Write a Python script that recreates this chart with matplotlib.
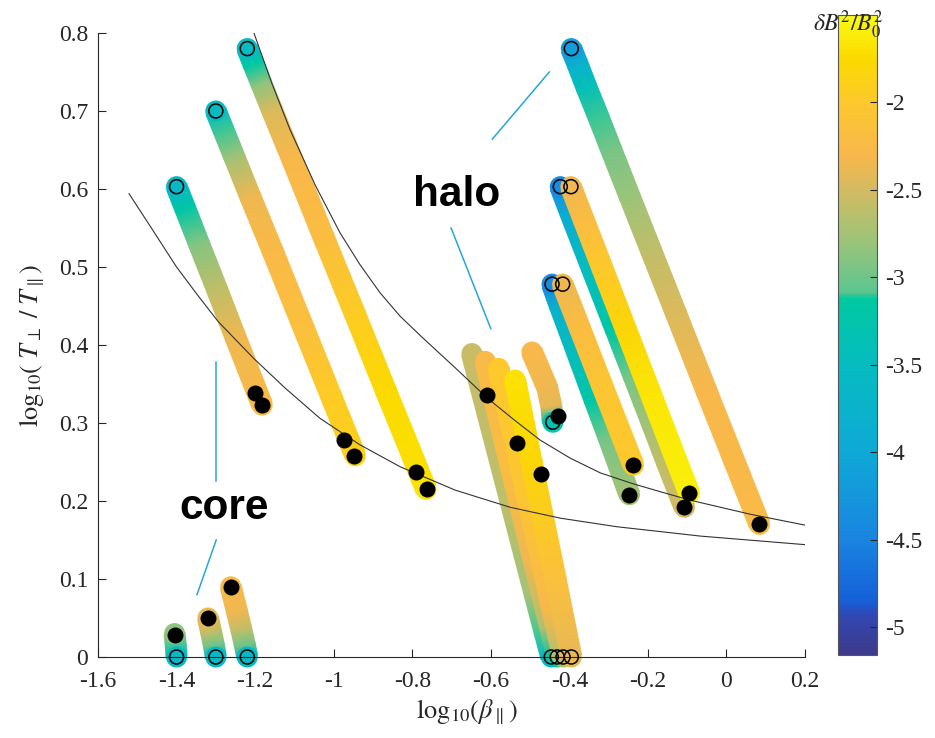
import numpy as np
import matplotlib
matplotlib.use("Agg")
import matplotlib.pyplot as plt
from matplotlib.colors import LinearSegmentedColormap, Normalize

plt.rcParams['font.family'] = ['Liberation Serif', 'DejaVu Serif']
plt.rcParams['mathtext.fontset'] = 'stix'
plt.rcParams['axes.unicode_minus'] = False

# tracks: x = log10(beta_par), y = log10(Tperp/Tpar), c = log10(dB^2/B0^2)
c1_x = [-1.400, -1.402, -1.405]
c1_y = [0.000, 0.015, 0.030]
c1_c = [-3.6, -3.1, -2.85]

c2_x = [-1.300, -1.305, -1.312, -1.320]
c2_y = [0.000, 0.015, 0.032, 0.050]
c2_c = [-3.6, -3.0, -2.6, -2.4]

c3_x = [-1.220, -1.226, -1.235, -1.246, -1.262]
c3_y = [0.000, 0.015, 0.035, 0.058, 0.090]
c3_c = [-3.6, -3.0, -2.6, -2.35, -2.3]

t1_x = [-1.400, -1.378, -1.343, -1.296, -1.250, -1.182]
t1_y = [0.603, 0.575, 0.530, 0.470, 0.410, 0.323]
t1_c = [-3.6, -3.2, -2.9, -2.6, -2.35, -2.25]

t2_x = [-1.300, -1.280, -1.252, -1.212, -1.155, -1.075, -1.003, -0.945]
t2_y = [0.700, 0.675, 0.640, 0.590, 0.520, 0.420, 0.330, 0.258]
t2_c = [-3.5, -3.1, -2.75, -2.35, -2.25, -2.15, -1.95, -1.9]

t3_x = [-1.220, -1.204, -1.184, -1.156, -1.107, -1.027, -0.946, -0.866, -0.765]
t3_y = [0.780, 0.760, 0.735, 0.700, 0.640, 0.540, 0.440, 0.340, 0.215]
t3_c = [-3.5, -3.15, -2.85, -2.45, -2.3, -2.2, -1.95, -1.75, -1.7]

m1_x = [-0.446, -0.462, -0.488, -0.550, -0.648]
m1_y = [0.000, 0.030, 0.080, 0.200, 0.389]
m1_c = [-3.6, -3.1, -2.75, -2.62, -2.55]

m2_x = [-0.431, -0.450, -0.489, -0.552, -0.614]
m2_y = [0.000, 0.040, 0.120, 0.250, 0.379]
m2_c = [-3.2, -2.7, -2.35, -2.2, -2.25]

m3_x = [-0.416, -0.443, -0.505, -0.580]
m3_y = [0.000, 0.060, 0.200, 0.370]
m3_c = [-2.7, -2.3, -2.05, -2.0]

m4_x = [-0.395, -0.435, -0.496, -0.538]
m4_y = [0.000, 0.100, 0.250, 0.355]
m4_c = [-2.4, -2.15, -1.8, -1.7]

s_x = [-0.442, -0.446, -0.456, -0.495]
s_y = [0.301, 0.322, 0.345, 0.391]
s_c = [-3.3, -2.4, -2.35, -2.3]

hp2a_x = [-0.444, -0.424, -0.387, -0.336, -0.299, -0.247]
hp2a_y = [0.478, 0.450, 0.400, 0.330, 0.280, 0.208]
hp2a_c = [-4.4, -3.8, -3.5, -3.2, -2.95, -2.75]

hp2b_x = [-0.417, -0.372, -0.318, -0.237]
hp2b_y = [0.478, 0.420, 0.350, 0.246]
hp2b_c = [-2.35, -2.2, -2.05, -2.0]

hp1a_x = [-0.423, -0.398, -0.344, -0.282, -0.236, -0.190, -0.152, -0.107]
hp1a_y = [0.603, 0.570, 0.500, 0.420, 0.360, 0.300, 0.250, 0.192]
hp1a_c = [-4.4, -3.9, -3.5, -3.2, -2.95, -2.75, -2.6, -2.5]

hp1b_x = [-0.396, -0.363, -0.317, -0.256, -0.187, -0.095]
hp1b_y = [0.603, 0.560, 0.500, 0.420, 0.330, 0.210]
hp1b_c = [-2.35, -2.2, -2.0, -1.8, -1.65, -1.6]

h1_x = [-0.395, -0.379, -0.356, -0.324, -0.293, -0.246, -0.191, -0.128, -0.050, 0.084]
h1_y = [0.780, 0.760, 0.730, 0.690, 0.650, 0.590, 0.520, 0.440, 0.340, 0.170]
h1_c = [-4.2, -3.8, -3.4, -3.1, -2.95, -2.8, -2.6, -2.45, -2.3, -2.25]

# black dots
dot_x = [-1.405, -1.320, -1.262, -1.200, -1.182, -0.973, -0.948, -0.790, -0.762,
         -0.610, -0.532, -0.472, -0.430, -0.247, -0.237, -0.107, -0.095, 0.084]
dot_y = [0.028, 0.050, 0.090, 0.338, 0.323, 0.278, 0.258, 0.237, 0.215,
         0.336, 0.275, 0.235, 0.309, 0.208, 0.246, 0.192, 0.210, 0.170]

# threshold curves
upper_x = [-1.203, -1.157, -1.111, -1.047, -0.984, -0.933, -0.882, -0.831, -0.775, -0.691,
           -0.609, -0.538, -0.474, -0.398, -0.321, -0.237, -0.169, -0.092, 0.061, 0.201]
upper_y = [0.800, 0.735, 0.676, 0.605, 0.544, 0.503, 0.467, 0.437, 0.410, 0.371,
           0.332, 0.303, 0.278, 0.255, 0.236, 0.222, 0.212, 0.201, 0.183, 0.169]
lower_x = [-1.521, -1.468, -1.400, -1.345, -1.294, -1.204, -1.124, -1.035, -0.933, -0.831,
           -0.691, -0.551, -0.423, -0.279, -0.066, 0.201]
lower_y = [0.594, 0.553, 0.500, 0.463, 0.430, 0.383, 0.345, 0.306, 0.272, 0.244,
           0.214, 0.192, 0.178, 0.167, 0.155, 0.144]

# label pointer lines
halo_l1_x = [-0.451, -0.596]
halo_l1_y = [0.750, 0.664]
halo_l2_x = [-0.701, -0.600]
halo_l2_y = [0.550, 0.421]
core_l1_x = [-1.299, -1.299]
core_l1_y = [0.378, 0.226]
core_l2_x = [-1.299, -1.348]
core_l2_y = [0.150, 0.080]

xticks = [-1.6, -1.4, -1.2, -1.0, -0.8, -0.6, -0.4, -0.2, 0.0, 0.2]
xtick_labels = ['-1.6', '-1.4', '-1.2', '-1', '-0.8', '-0.6', '-0.4', '-0.2', '0', '0.2']
yticks = [0, 0.1, 0.2, 0.3, 0.4, 0.5, 0.6, 0.7, 0.8]
ytick_labels = ['0', '0.1', '0.2', '0.3', '0.4', '0.5', '0.6', '0.7', '0.8']
cticks = [-5, -4.5, -4, -3.5, -3, -2.5, -2]
ctick_labels = ['-5', '-4.5', '-4', '-3.5', '-3', '-2.5', '-2']

# parula-like colour scale as shown on the colorbar
cmin, cmax = -5.16, -1.5
cm_vals = [-5.16, -4.95, -4.85, -4.5, -4.0, -3.5, -3.12, -3.08, -2.8, -2.5, -2.3, -2.0, -1.75, -1.5]
cm_cols = ['#3d3a8c', '#3346b0', '#1560d8', '#1a85e0', '#0ea9d6', '#06bcc0', '#00c9a0',
           '#5cc690', '#9ac47a', '#d2bb62', '#f8b74c', '#fdc82e', '#fbd900', '#fafa10']
cmap = LinearSegmentedColormap.from_list(
    'parula_ish', [((v - cmin) / (cmax - cmin), c) for v, c in zip(cm_vals, cm_cols)], N=256)
norm = Normalize(cmin, cmax)

DPI = 100
TRACK_W = 21  # px

fig = plt.figure(figsize=(9.35, 7.38), dpi=DPI)
ax = fig.add_axes([98 / 935, 81 / 738, 707 / 935, 624 / 738])
ax.set_xlim(-1.6, 0.2)
ax.set_ylim(0, 0.8)


def draw_track(xs, ys, cs, z):
    pts = ax.transData.transform(np.column_stack([xs, ys]))
    tan = np.gradient(pts, axis=0)
    tan /= np.linalg.norm(tan, axis=1)[:, None]
    nrm = np.column_stack([-tan[:, 1], tan[:, 0]]) * TRACK_W / 2
    inv = ax.transData.inverted()
    lo = inv.transform(pts - nrm)
    hi = inv.transform(pts + nrm)
    X = np.vstack([lo[:, 0], hi[:, 0]])
    Y = np.vstack([lo[:, 1], hi[:, 1]])
    C = np.vstack([cs, cs])
    mesh = ax.pcolormesh(X, Y, C, cmap=cmap, norm=norm, shading='gouraud', zorder=z)
    mesh.set_clip_on(False)
    ax.scatter([xs[0], xs[-1]], [ys[0], ys[-1]], c=[cs[0], cs[-1]], cmap=cmap, norm=norm,
               s=(TRACK_W * 72 / DPI) ** 2, linewidths=0, zorder=z, clip_on=False)


tracks = [(c1_x, c1_y, c1_c), (c2_x, c2_y, c2_c), (c3_x, c3_y, c3_c),
          (t1_x, t1_y, t1_c), (t2_x, t2_y, t2_c), (t3_x, t3_y, t3_c),
          (m1_x, m1_y, m1_c), (m2_x, m2_y, m2_c), (m3_x, m3_y, m3_c), (m4_x, m4_y, m4_c),
          (s_x, s_y, s_c), (hp2a_x, hp2a_y, hp2a_c), (hp2b_x, hp2b_y, hp2b_c),
          (hp1a_x, hp1a_y, hp1a_c), (hp1b_x, hp1b_y, hp1b_c), (h1_x, h1_y, h1_c)]

for i, (xs, ys, cs) in enumerate(tracks):
    draw_track(xs, ys, cs, 2 + 0.01 * i)

# start markers (open circles) and black dots
ax.scatter([t[0][0] for t in tracks], [t[1][0] for t in tracks], s=(14 * 0.72) ** 2,
           facecolors='none', edgecolors='k', linewidths=1.1, zorder=5, clip_on=False)
ax.scatter(dot_x, dot_y, s=(16 * 0.72) ** 2, color='k', linewidths=0, zorder=6, clip_on=False)

ax.plot(upper_x, upper_y, color='#333333', lw=0.8, zorder=4)
ax.plot(lower_x, lower_y, color='#333333', lw=0.8, zorder=4)

cyan = '#27a6d8'
for lx, ly in [(halo_l1_x, halo_l1_y), (halo_l2_x, halo_l2_y),
               (core_l1_x, core_l1_y), (core_l2_x, core_l2_y)]:
    ax.plot(lx, ly, color=cyan, lw=1.1, zorder=4)

ax.text(-0.686, 0.578, 'halo', fontsize=30.5, fontweight='bold', family='Liberation Sans',
        ha='center', va='baseline', zorder=7)
ax.text(-1.279, 0.177, 'core', fontsize=30.5, fontweight='bold', family='Liberation Sans',
        ha='center', va='baseline', zorder=7)

axcol = '#262626'
for side in ['top', 'right']:
    ax.spines[side].set_visible(False)
for side in ['left', 'bottom']:
    ax.spines[side].set_color(axcol)
    ax.spines[side].set_linewidth(0.8)
ax.set_xticks(xticks)
ax.set_xticklabels(xtick_labels)
ax.set_yticks(yticks)
ax.set_yticklabels(ytick_labels)
ax.tick_params(axis='both', direction='in', length=6, width=0.8, color=axcol,
               labelcolor=axcol, labelsize=17)
ax.tick_params(axis='x', pad=10)
ax.tick_params(axis='y', pad=7)

ax.set_xlabel(r'$\mathrm{log}_{10}(\beta_{\parallel})$', fontsize=19, color=axcol)
ax.xaxis.set_label_coords(0.522, -0.066)
ax.set_ylabel(r'$\mathrm{log}_{10}(\ T_{\perp}\ /\ T_{\parallel})$', fontsize=19, color=axcol)
ax.yaxis.set_label_coords(-0.072, 0.5)

# colorbar
cax = fig.add_axes([838 / 935, 83 / 738, 39 / 935, 640 / 738])
sm = matplotlib.cm.ScalarMappable(norm=norm, cmap=cmap)
cb = fig.colorbar(sm, cax=cax, ticks=cticks)
cb.ax.set_yticklabels(ctick_labels)
cb.ax.tick_params(direction='in', length=5, width=0.8, color=axcol, labelcolor=axcol,
                  labelsize=17, pad=6)
cb.outline.set_edgecolor('#555555')
cb.outline.set_linewidth(0.8)
cax.text(0.26, 0.985, r'$\delta B^2/B_0^2$', transform=cax.transAxes, ha='center',
         va='center', fontsize=17, color=axcol)

fig.savefig('out.png', dpi=DPI)
